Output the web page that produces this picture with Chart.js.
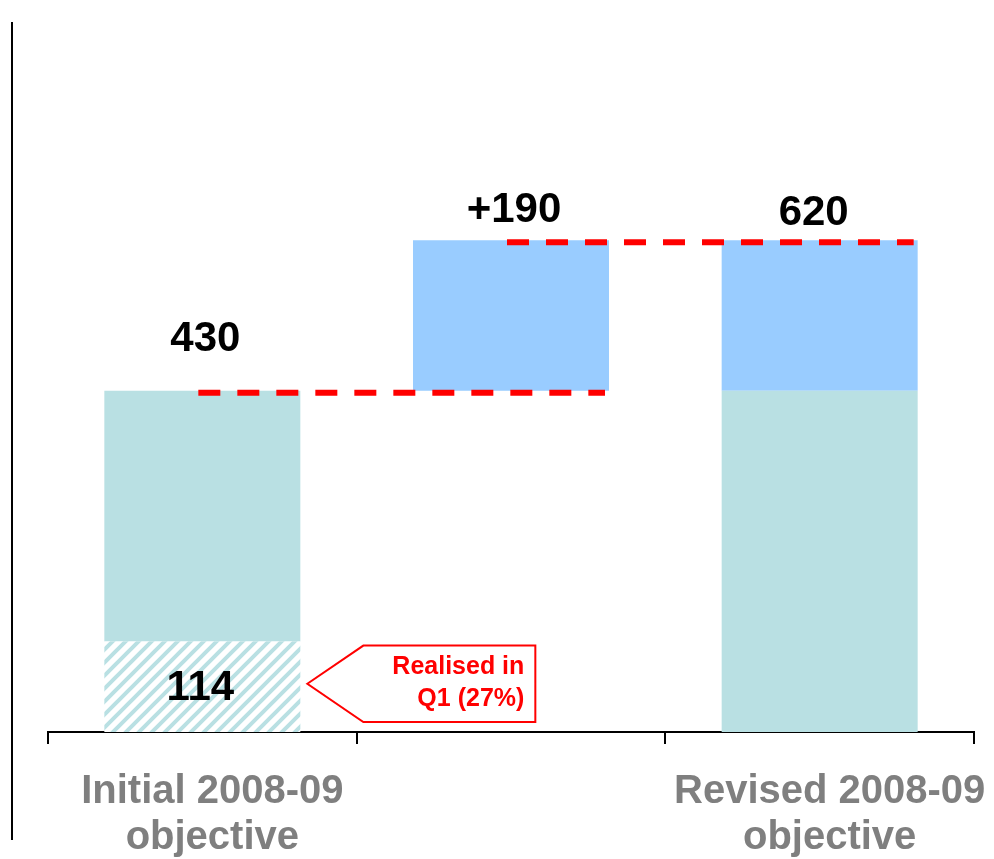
<!DOCTYPE html>
<html>
<head>
<meta charset="utf-8">
<style>
  html, body { margin: 0; padding: 0; background: #fff; }
  #wrap { position: relative; width: 994px; height: 859px; }
</style>
<script src="https://cdn.jsdelivr.net/npm/chart.js@4/dist/chart.umd.min.js"></script>
</head>
<body>
<div id="wrap"><canvas id="bridge"></canvas></div>
<script>
// categories (middle column is the bridge step, no label)
const categories = [["Initial 2008-09", "objective"], "", ["Revised 2008-09", "objective"]];
// stacked series
const realisedQ1 = [114, null, null];
const objectiveRest = [316, null, 430];
const bridgeGap = [null, 430, null];
const upgrade = [null, 190, 190];
// texts
const totalLabels = ["430", "+190", "620"];
const realisedLabel = "114";
const calloutLines = ["Realised in", "Q1 (27%)"];

const FONT = '"Liberation Sans", Arial, Helvetica, sans-serif';
const TEAL = "#b9e0e3";
const BLUE = "#99ccff";
const RED = "#ff0000";

function hatchPattern() {
  const s = 13;
  const c = document.createElement("canvas");
  c.width = s;
  c.height = s;
  const g = c.getContext("2d");
  g.fillStyle = "#ffffff";
  g.fillRect(0, 0, s, s);
  g.strokeStyle = TEAL;
  g.lineWidth = 4;
  g.beginPath();
  g.moveTo(-s / 2, s / 2); g.lineTo(s / 2, -s / 2);
  g.moveTo(0, s); g.lineTo(s, 0);
  g.moveTo(s / 2, s * 1.5); g.lineTo(s * 1.5, s / 2);
  g.stroke();
  return g.createPattern(c, "repeat");
}

function columnTotal(i) {
  return [realisedQ1, objectiveRest, bridgeGap, upgrade]
    .reduce((acc, arr) => acc + (arr[i] || 0), 0);
}

const decorations = {
  id: "decorations",
  afterDatasetsDraw(chart) {
    const ctx = chart.ctx;
    const x = chart.scales.x;
    const y = chart.scales.y;
    const area = chart.chartArea;
    const half = chart.getDatasetMeta(3).data[1].width / 2;

    ctx.save();

    // frame line on the left
    ctx.strokeStyle = "#000";
    ctx.lineWidth = 2;
    ctx.beginPath();
    ctx.moveTo(area.left - 36, 22);
    ctx.lineTo(area.left - 36, 840);
    ctx.stroke();

    // red dashed connectors
    ctx.strokeStyle = RED;
    ctx.lineWidth = 6;
    ctx.setLineDash([22, 17]);
    for (let i = 0; i < categories.length - 1; i++) {
      const yy = y.getPixelForValue(columnTotal(i)) + 2;
      ctx.beginPath();
      ctx.moveTo(x.getPixelForValue(i) - 4, yy);
      ctx.lineTo(x.getPixelForValue(i + 1) + half - 4, yy);
      ctx.stroke();
    }
    ctx.setLineDash([]);

    // value labels above the columns
    const offsets = [51, 30, 27];
    const shifts = [3, 3, -6];
    ctx.fillStyle = "#000";
    ctx.font = "bold 42px " + FONT;
    ctx.textAlign = "center";
    ctx.textBaseline = "middle";
    totalLabels.forEach((t, i) => {
      const top = y.getPixelForValue(columnTotal(i));
      ctx.fillText(t, x.getPixelForValue(i) + shifts[i], top - offsets[i]);
    });

    // realised value inside the hatched segment
    const seg = chart.getDatasetMeta(0).data[0];
    ctx.fillText(realisedLabel, seg.x - 2, (seg.y + seg.base) / 2 + 2);

    // callout arrow box
    const tipX = seg.x + seg.width / 2 + 7;
    const top = seg.y + 4;
    const bottom = seg.base - 10;
    const midY = (top + bottom) / 2;
    const shoulder = tipX + 56;
    const right = tipX + 228;
    ctx.beginPath();
    ctx.moveTo(tipX, midY);
    ctx.lineTo(shoulder, top);
    ctx.lineTo(right, top);
    ctx.lineTo(right, bottom);
    ctx.lineTo(shoulder, bottom);
    ctx.closePath();
    ctx.fillStyle = "#fff";
    ctx.fill();
    ctx.strokeStyle = RED;
    ctx.lineWidth = 2;
    ctx.stroke();
    ctx.fillStyle = RED;
    ctx.font = "bold 25px " + FONT;
    ctx.textAlign = "right";
    ctx.fillText(calloutLines[0], right - 11, midY - 17);
    ctx.fillText(calloutLines[1], right - 11, midY + 15);

    ctx.restore();
  },
};

new Chart(document.getElementById("bridge"), {
  type: "bar",
  data: {
    labels: categories,
    datasets: [
      { label: "Realised Q1", data: realisedQ1, backgroundColor: hatchPattern() },
      { label: "Objective", data: objectiveRest, backgroundColor: TEAL },
      { label: "Gap", data: bridgeGap, backgroundColor: "rgba(0,0,0,0)" },
      { label: "Upgrade", data: upgrade, backgroundColor: BLUE },
    ],
  },
  options: {
    responsive: true,
    maintainAspectRatio: false,
    animation: false,
    layout: { padding: { top: 18, left: 48, right: 20, bottom: 0 } },
    datasets: {
      bar: { categoryPercentage: 1, barPercentage: 0.635, borderWidth: 0, skipNull: true },
    },
    plugins: {
      legend: { display: false },
      tooltip: { enabled: false },
    },
    scales: {
      x: {
        stacked: true,
        offset: true,
        border: { display: true, color: "#000", width: 2 },
        grid: {
          offset: true,
          drawOnChartArea: false,
          drawTicks: true,
          tickLength: 12,
          color: "#000",
          lineWidth: 2,
        },
        ticks: {
          color: "#7f7f7f",
          padding: 25,
          labelOffset: 10,
          maxRotation: 0,
          autoSkip: false,
          font: { family: FONT, size: 40, weight: "bold", lineHeight: 1.15 },
        },
        afterFit(scale) {
          scale.height = 127;
          scale.paddingLeft = 0;
          scale.paddingRight = 0;
        },
      },
      y: {
        stacked: true,
        display: false,
        min: 0,
        max: 900,
      },
    },
  },
  plugins: [decorations],
});
</script>
</body>
</html>
